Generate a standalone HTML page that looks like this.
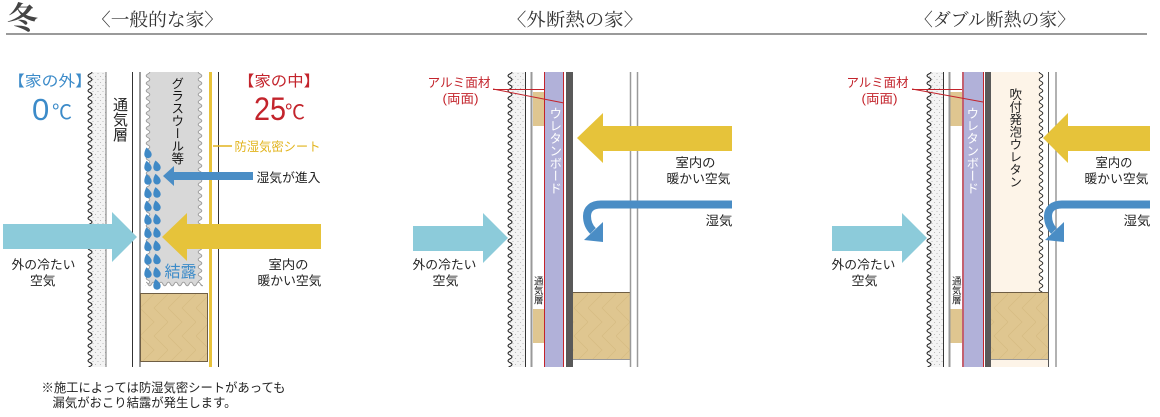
<!DOCTYPE html>
<html><head><meta charset="utf-8">
<style>
html,body{margin:0;padding:0;background:#fff;}
body{width:1160px;height:417px;overflow:hidden;position:relative;font-family:"Liberation Sans","Noto Sans CJK JP",sans-serif;}
svg{position:absolute;left:0;top:0;}
.v{position:absolute;writing-mode:vertical-rl;line-height:1;font-family:"Liberation Sans","Noto Sans CJK JP",sans-serif;white-space:nowrap;}
</style></head><body>
<svg width="1160" height="417" viewBox="0 0 1160 417" xmlns="http://www.w3.org/2000/svg">
<defs>
  <pattern id="dots" width="5" height="6" patternUnits="userSpaceOnUse">
    <rect width="5" height="6" fill="#f4f4f4"/>
    <circle cx="1" cy="1.5" r="0.55" fill="#b0b0b0"/>
    <circle cx="3.5" cy="4.5" r="0.55" fill="#b0b0b0"/>
  </pattern>
  <pattern id="wL" width="6" height="7.5" patternUnits="userSpaceOnUse">
    <path d="M0,0 H5 C5,2 1,1.75 1,3.75 C1,5.75 5,5.5 5,7.5 H0 Z" fill="#fff"/>
    <path d="M5,0 C5,2 1,1.75 1,3.75 C1,5.75 5,5.5 5,7.5" fill="none" stroke="#222" stroke-width="1"/>
  </pattern>
  <pattern id="wR" width="6" height="7.5" patternUnits="userSpaceOnUse">
    <path d="M6,0 H1.2 C1.2,2 4.8,1.75 4.8,3.75 C4.8,5.75 1.2,5.5 1.2,7.5 H6 Z" fill="#fff"/>
    <path d="M1.2,0 C1.2,2 4.8,1.75 4.8,3.75 C4.8,5.75 1.2,5.5 1.2,7.5" fill="none" stroke="#222" stroke-width="0.9"/>
  </pattern>
  <pattern id="wLg" width="6" height="7.5" patternUnits="userSpaceOnUse">
    <path d="M0,0 H4.8 C4.8,2 1.2,1.75 1.2,3.75 C1.2,5.75 4.8,5.5 4.8,7.5 H0 Z" fill="#fff"/>
    <path d="M4.8,0 C4.8,2 1.2,1.75 1.2,3.75 C1.2,5.75 4.8,5.5 4.8,7.5" fill="none" stroke="#9a9a9a" stroke-width="0.9"/>
  </pattern>
  <pattern id="wRg" width="6" height="7.5" patternUnits="userSpaceOnUse">
    <path d="M6,0 H1.2 C1.2,2 4.8,1.75 4.8,3.75 C4.8,5.75 1.2,5.5 1.2,7.5 H6 Z" fill="#fff"/>
    <path d="M1.2,0 C1.2,2 4.8,1.75 4.8,3.75 C4.8,5.75 1.2,5.5 1.2,7.5" fill="none" stroke="#9a9a9a" stroke-width="0.9"/>
  </pattern>
  <pattern id="wBg" width="7.5" height="6" patternUnits="userSpaceOnUse">
    <path d="M0,1.2 C2,1.2 1.75,4.8 3.75,4.8 C5.75,4.8 5.5,1.2 7.5,1.2 V6 H0 Z" fill="#fff"/>
    <path d="M0,1.2 C2,1.2 1.75,4.8 3.75,4.8 C5.75,4.8 5.5,1.2 7.5,1.2" fill="none" stroke="#9a9a9a" stroke-width="0.9"/>
  </pattern>
  <pattern id="wood" width="28" height="28" patternUnits="userSpaceOnUse">
    <rect width="28" height="28" fill="#dfc690"/>
    <path d="M0,0 L14,14 L0,28 M14,0 L28,14 L14,28" fill="none" stroke="#d6bb83" stroke-width="0.7"/>
  </pattern>
  <path id="drop" d="M-1.5,-5.5 Q3.7,-1.5 3.7,1.5 A3.7,3.7 0 0 1 -3.7,1.5 Q-3.7,-2 -1.5,-5.5 Z" fill="#3f89c6"/>
</defs>

<!-- Header -->
<text x="7" y="29" font-size="31" fill="#444" font-weight="bold" font-family="'Liberation Serif','Noto Serif CJK JP',serif">冬</text>
<text x="92" y="26" font-size="18" fill="#333" textLength="131" lengthAdjust="spacingAndGlyphs" font-family="'Liberation Serif','Noto Serif CJK JP',serif">〈一般的な家〉</text>
<text x="507" y="26" font-size="18" fill="#333" textLength="136" lengthAdjust="spacingAndGlyphs" font-family="'Liberation Serif','Noto Serif CJK JP',serif">〈外断熱の家〉</text>
<text x="915" y="26" font-size="18" fill="#333" textLength="160" lengthAdjust="spacingAndGlyphs" font-family="'Liberation Serif','Noto Serif CJK JP',serif">〈ダブル断熱の家〉</text>
<rect x="6" y="33" width="1141" height="2" fill="#9a9a9a"/>

<!-- ================= LEFT PANEL ================= -->
<g transform="translate(87,72)">
  <rect x="0" y="0" width="19" height="295" fill="url(#dots)"/>
  <rect x="0" y="0" width="6" height="295" fill="url(#wL)"/>
</g>
<line x1="106" y1="72" x2="106" y2="367" stroke="#777" stroke-width="1"/>
<line x1="132.5" y1="72" x2="132.5" y2="367" stroke="#333" stroke-width="1"/>
<line x1="140" y1="72" x2="140" y2="367" stroke="#999" stroke-width="2"/>
<!-- glass wool -->
<rect x="146" y="72" width="57" height="214" fill="#d8d8d8"/>
<g transform="translate(145,72)"><rect width="6" height="214" fill="url(#wLg)"/></g>
<g transform="translate(197,72)"><rect width="6" height="214" fill="url(#wRg)"/></g>
<g transform="translate(146,281)"><rect width="57" height="6" fill="url(#wBg)"/></g>
<!-- yellow sheet and inner line -->
<rect x="209" y="72" width="3" height="295" fill="#e7c23a"/>
<line x1="218.5" y1="72" x2="218.5" y2="367" stroke="#333" stroke-width="1"/>
<!-- wood -->
<rect x="140.5" y="293.5" width="67" height="68" fill="url(#wood)" stroke="#6f5e44" stroke-width="1"/>
<!-- drops -->
<g>
  <use href="#drop" transform="translate(148,153)"/>
  <use href="#drop" transform="translate(148,166.3)"/>
  <use href="#drop" transform="translate(148,179.6)"/>
  <use href="#drop" transform="translate(148,192.9)"/>
  <use href="#drop" transform="translate(148,206.2)"/>
  <use href="#drop" transform="translate(148,219.5)"/>
  <use href="#drop" transform="translate(148,232.8)"/>
  <use href="#drop" transform="translate(148,246.1)"/>
  <use href="#drop" transform="translate(148,259.4)"/>
  <use href="#drop" transform="translate(148,272.7)"/>
  <use href="#drop" transform="translate(157,166)"/>
  <use href="#drop" transform="translate(157,179.3)"/>
  <use href="#drop" transform="translate(157,192.6)"/>
  <use href="#drop" transform="translate(157,205.9)"/>
  <use href="#drop" transform="translate(157,219.2)"/>
  <use href="#drop" transform="translate(157,232.5)"/>
  <use href="#drop" transform="translate(157,245.8)"/>
  <use href="#drop" transform="translate(157,259.1)"/>
  <use href="#drop" transform="translate(157,272.4)"/>
  <use href="#drop" transform="translate(157,284.5)"/>
</g>
<!-- arrows -->
<polygon points="3,224 112,224 112,212 137,237 112,262 112,249 3,249" fill="#8ccbda"/>
<polygon points="321,224 187,224 187,213 162,237 187,261 187,249 321,249" fill="#e6c33a"/>
<polygon points="163,176 174,166 174,172 253,172 253,180 174,180 174,186" fill="#4a8dc5"/>
<!-- texts -->
<text x="8" y="86" font-size="15" fill="#3c8bc9" textLength="84" lengthAdjust="spacingAndGlyphs">【家の外】</text>
<text x="238" y="86" font-size="15" fill="#c3242c" textLength="82" lengthAdjust="spacingAndGlyphs">【家の中】</text>
<text x="32" y="120" font-size="31" fill="#3c8bc9" font-family="'Liberation Sans',sans-serif">0</text>
<text x="52" y="119" font-size="20" fill="#3c8bc9" font-family="'Noto Sans CJK JP',sans-serif">℃</text>
<text x="254" y="120" font-size="32" fill="#c3242c" textLength="32" lengthAdjust="spacingAndGlyphs" font-family="'Liberation Sans',sans-serif">25</text>
<text x="285" y="119" font-size="20" fill="#c3242c" font-family="'Noto Sans CJK JP',sans-serif">℃</text>
<line x1="213" y1="146" x2="232" y2="146" stroke="#e2b41e" stroke-width="1.5"/>
<text x="234.5" y="151" font-size="12.5" fill="#e2b41e" textLength="86" lengthAdjust="spacingAndGlyphs">防湿気密シート</text>
<text x="256.5" y="182" font-size="12.5" fill="#222" textLength="64" lengthAdjust="spacingAndGlyphs">湿気が進入</text>
<text x="11.5" y="269" font-size="12.5" fill="#222" textLength="64" lengthAdjust="spacingAndGlyphs">外の冷たい</text>
<text x="30" y="285" font-size="12.5" fill="#222" textLength="25.5" lengthAdjust="spacingAndGlyphs">空気</text>
<text x="268.5" y="269" font-size="12.5" fill="#222" textLength="40" lengthAdjust="spacingAndGlyphs">室内の</text>
<text x="257.5" y="285" font-size="12.5" fill="#222" textLength="64" lengthAdjust="spacingAndGlyphs">暖かい空気</text>
<text x="164.5" y="277" font-size="16" fill="#3c8bc9" textLength="32" lengthAdjust="spacingAndGlyphs">結露</text>
<text x="41.5" y="392" font-size="12.5" fill="#222" textLength="244" lengthAdjust="spacingAndGlyphs">※施工によっては防湿気密シートがあっても</text>
<text x="52.5" y="407" font-size="12.5" fill="#222" textLength="184" lengthAdjust="spacingAndGlyphs">漏気がおこり結露が発生します。</text>

<!-- ================= MIDDLE PANEL ================= -->
<g transform="translate(507,72)">
  <rect x="0" y="0" width="18" height="295" fill="url(#dots)"/>
  <rect x="0" y="0" width="6" height="295" fill="url(#wL)"/>
</g>
<line x1="525.5" y1="72" x2="525.5" y2="367" stroke="#333" stroke-width="1"/>
<line x1="531.5" y1="72" x2="531.5" y2="367" stroke="#999" stroke-width="2"/>
<rect x="533" y="92" width="11" height="34" fill="#dfc690"/>
<rect x="533" y="309" width="11" height="34" fill="#dfc690"/>
<rect x="544" y="72" width="20" height="295" fill="#b1b1d9"/>
<line x1="544.5" y1="72" x2="544.5" y2="367" stroke="#c3242c" stroke-width="1"/>
<line x1="563.5" y1="72" x2="563.5" y2="367" stroke="#c3242c" stroke-width="1"/>
<rect x="566" y="72" width="7" height="295" fill="#595959"/>
<rect x="573" y="292" width="57" height="67" fill="url(#wood)"/>
<line x1="573" y1="292.5" x2="630" y2="292.5" stroke="#6f5e44" stroke-width="1"/>
<line x1="573" y1="359.5" x2="630" y2="359.5" stroke="#999" stroke-width="1"/>
<line x1="630.5" y1="72" x2="630.5" y2="367" stroke="#999" stroke-width="1.5"/>
<line x1="637.5" y1="72" x2="637.5" y2="367" stroke="#999" stroke-width="1.5"/>
<!-- red leaders -->
<line x1="493" y1="89.5" x2="544" y2="89.5" stroke="#c3242c" stroke-width="1"/>
<line x1="493" y1="89" x2="564" y2="103" stroke="#c3242c" stroke-width="1"/>
<!-- arrows -->
<polygon points="413,226 483,226 483,213 508,238 483,263 483,251 413,251" fill="#8ccbda"/>
<polygon points="732,126 603,126 603,113 577,138 603,163 603,151 732,151" fill="#e6c33a"/>
<path d="M732,204.5 H601 C592,204.5 587,209 587,216 C587,222 589,227 593,231" fill="none" stroke="#4a8dc5" stroke-width="8"/>
<polygon points="584,240 603,222 603,242" fill="#4a8dc5"/>
<!-- texts -->
<text x="427.5" y="87" font-size="12.5" fill="#c3242c" textLength="63" lengthAdjust="spacingAndGlyphs">アルミ面材</text>
<text x="442.5" y="103" font-size="12.5" fill="#c3242c" textLength="36" lengthAdjust="spacingAndGlyphs">(両面)</text>
<text x="675.5" y="167" font-size="12.5" fill="#222" textLength="40" lengthAdjust="spacingAndGlyphs">室内の</text>
<text x="666.5" y="183" font-size="12.5" fill="#222" textLength="64" lengthAdjust="spacingAndGlyphs">暖かい空気</text>
<text x="705.5" y="225" font-size="12.5" fill="#222" textLength="27" lengthAdjust="spacingAndGlyphs">湿気</text>
<text x="412.5" y="269" font-size="12.5" fill="#222" textLength="64" lengthAdjust="spacingAndGlyphs">外の冷たい</text>
<text x="432.5" y="285" font-size="12.5" fill="#222" textLength="26" lengthAdjust="spacingAndGlyphs">空気</text>

<!-- ================= RIGHT PANEL ================= -->
<g transform="translate(926,72)">
  <rect x="0" y="0" width="17" height="295" fill="url(#dots)"/>
  <rect x="0" y="0" width="6" height="295" fill="url(#wL)"/>
</g>
<line x1="943.5" y1="72" x2="943.5" y2="367" stroke="#333" stroke-width="1"/>
<line x1="949.5" y1="72" x2="949.5" y2="367" stroke="#999" stroke-width="2"/>
<rect x="950.5" y="92" width="11.5" height="34" fill="#dfc690"/>
<rect x="950.5" y="309" width="11.5" height="34" fill="#dfc690"/>
<rect x="962" y="72" width="21" height="295" fill="#b1b1d9"/>
<line x1="963" y1="72" x2="963" y2="367" stroke="#c36070" stroke-width="2"/>
<line x1="983.5" y1="72" x2="983.5" y2="367" stroke="#c3242c" stroke-width="1"/>
<rect x="985" y="72" width="6" height="295" fill="#595959"/>
<rect x="991" y="72" width="57" height="295" fill="#fdf4e8"/>
<g transform="translate(1038,72)"><rect width="6" height="220" fill="url(#wR)"/></g>
<rect x="1044" y="72" width="4" height="220" fill="#fff"/>
<rect x="991" y="292" width="57" height="67" fill="url(#wood)"/>
<line x1="991" y1="292.5" x2="1048" y2="292.5" stroke="#6f5e44" stroke-width="1"/>
<line x1="991" y1="359.5" x2="1048" y2="359.5" stroke="#999" stroke-width="1"/>
<line x1="1048.5" y1="72" x2="1048.5" y2="367" stroke="#555" stroke-width="1"/>
<line x1="1056" y1="72" x2="1056" y2="367" stroke="#999" stroke-width="1.5"/>
<!-- red leaders -->
<line x1="912" y1="89.5" x2="962" y2="89.5" stroke="#c3242c" stroke-width="1"/>
<line x1="912" y1="89" x2="983" y2="102" stroke="#c3242c" stroke-width="1"/>
<!-- arrows -->
<polygon points="832,226 902,226 902,213 927,238 902,263 902,251 832,251" fill="#8ccbda"/>
<polygon points="1150,126 1068,126 1068,113 1043,138 1068,163 1068,151 1150,151" fill="#e6c33a"/>
<path d="M1150,204.5 H1062 C1053,204.5 1048,209 1048,216 C1048,222 1050,227 1054,231" fill="none" stroke="#4a8dc5" stroke-width="8"/>
<polygon points="1045,240 1064,222 1064,242" fill="#4a8dc5"/>
<!-- texts -->
<text x="846.5" y="87" font-size="12.5" fill="#c3242c" textLength="62" lengthAdjust="spacingAndGlyphs">アルミ面材</text>
<text x="861.5" y="103" font-size="12.5" fill="#c3242c" textLength="36" lengthAdjust="spacingAndGlyphs">(両面)</text>
<text x="1095.5" y="167" font-size="12.5" fill="#222" textLength="37" lengthAdjust="spacingAndGlyphs">室内の</text>
<text x="1084.5" y="183" font-size="12.5" fill="#222" textLength="64" lengthAdjust="spacingAndGlyphs">暖かい空気</text>
<text x="1123.5" y="225" font-size="12.5" fill="#222" textLength="27" lengthAdjust="spacingAndGlyphs">湿気</text>
<text x="831.5" y="269" font-size="12.5" fill="#222" textLength="64" lengthAdjust="spacingAndGlyphs">外の冷たい</text>
<text x="851.5" y="285" font-size="12.5" fill="#222" textLength="26" lengthAdjust="spacingAndGlyphs">空気</text>
</svg>

<!-- vertical labels -->
<div class="v" style="left:112px;top:97px;font-size:15px;color:#222;">通気層</div>
<div class="v" style="left:169.75px;top:77px;font-size:12.5px;color:#111;">グラスウール等</div>
<div class="v" style="left:547.75px;top:107px;font-size:12.5px;color:#fff;">ウレタンボード</div>
<div class="v" style="left:532.25px;top:276px;font-size:9.5px;color:#222;">通気層</div>
<div class="v" style="left:964.75px;top:107px;font-size:12.5px;color:#fff;">ウレタンボード</div>
<div class="v" style="left:1007.75px;top:88px;font-size:12.5px;color:#222;">吹付発泡ウレタン</div>
<div class="v" style="left:950.25px;top:276px;font-size:9.5px;color:#222;">通気層</div>
</body></html>
